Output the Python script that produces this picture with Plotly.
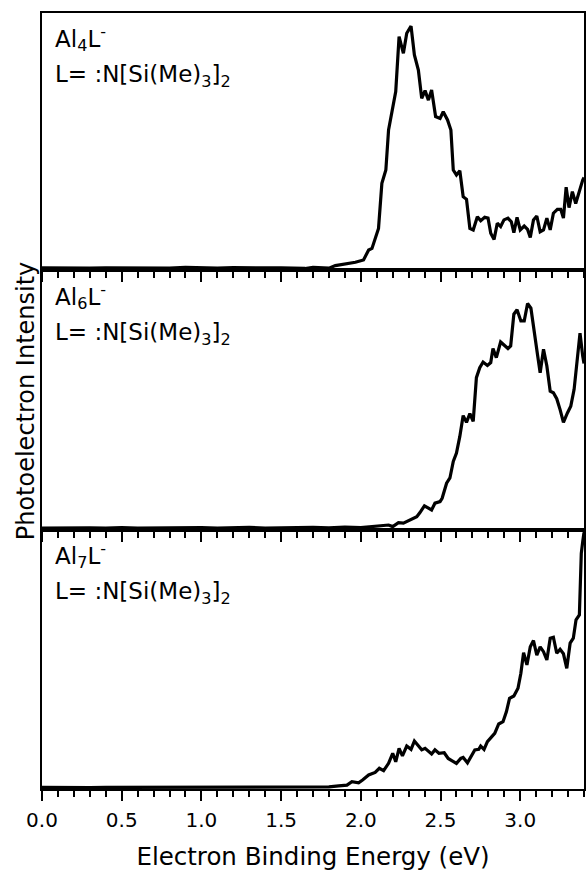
import plotly.graph_objects as go
from plotly.subplots import make_subplots

# ---------------- data ----------------
e_al4 = [0.0, 0.1, 0.2, 0.3, 0.4, 0.5, 0.6, 0.7, 0.8, 0.9, 1.0, 1.1, 1.2, 1.3, 1.4, 1.5,
         1.549, 1.60, 1.65, 1.70, 1.75, 1.80, 1.84, 1.893, 1.966, 2.017, 2.049, 2.07, 2.111,
         2.132, 2.157, 2.174, 2.194, 2.219, 2.24, 2.267, 2.288, 2.315, 2.336, 2.361, 2.382,
         2.403, 2.424, 2.444, 2.469, 2.497, 2.517, 2.544, 2.565, 2.58, 2.60, 2.621, 2.642,
         2.663, 2.684, 2.705, 2.731, 2.752, 2.777, 2.798, 2.815, 2.836, 2.856, 2.877, 2.898,
         2.923, 2.944, 2.96, 2.98, 3.0, 3.025, 3.046, 3.063, 3.083, 3.104, 3.125, 3.146,
         3.167, 3.188, 3.208, 3.233, 3.254, 3.271, 3.288, 3.306, 3.327, 3.348, 3.369, 3.392, 3.40]
i_al4 = [0.008, 0.007, 0.009, 0.007, 0.008, 0.007, 0.009, 0.008, 0.007, 0.010, 0.008, 0.007,
         0.009, 0.007, 0.008, 0.008,
         0.007, 0.009, 0.006, 0.010, 0.008, 0.007, 0.017, 0.023, 0.030, 0.039, 0.078, 0.084, 0.162,
         0.337, 0.389, 0.545, 0.610, 0.694, 0.908, 0.843, 0.921, 0.949, 0.837, 0.778, 0.668,
         0.698, 0.661, 0.700, 0.597, 0.590, 0.616, 0.584, 0.545, 0.389, 0.370, 0.386, 0.285,
         0.275, 0.162, 0.156, 0.207, 0.192, 0.205, 0.202, 0.143, 0.119, 0.182, 0.169, 0.195,
         0.202, 0.188, 0.145, 0.205, 0.156, 0.171, 0.158, 0.127, 0.195, 0.210, 0.149, 0.156,
         0.202, 0.156, 0.221, 0.236, 0.236, 0.202, 0.322, 0.243, 0.305, 0.259, 0.305, 0.350, 0.36]

e_al6 = [0.0, 0.1, 0.2, 0.3, 0.4, 0.5, 0.6, 0.7, 0.8, 0.9, 1.0, 1.1, 1.2, 1.3, 1.4, 1.5,
         1.60, 1.70, 1.80, 1.90, 2.00, 2.09, 2.174, 2.20, 2.236, 2.267, 2.299, 2.351, 2.371,
         2.399, 2.444, 2.465, 2.497, 2.51, 2.538, 2.559, 2.58, 2.60, 2.621, 2.642, 2.663,
         2.684, 2.705, 2.725, 2.746, 2.767, 2.794, 2.815, 2.829, 2.85, 2.877, 2.898, 2.923,
         2.94, 2.96, 2.98, 3.004, 3.025, 3.046, 3.067, 3.088, 3.108, 3.125, 3.146, 3.167,
         3.188, 3.208, 3.229, 3.25, 3.271, 3.296, 3.317, 3.338, 3.354, 3.375, 3.392, 3.40]
i_al6 = [0.007, 0.008, 0.006, 0.008, 0.007, 0.009, 0.007, 0.008, 0.006, 0.008, 0.009, 0.007,
         0.008, 0.010, 0.007, 0.009,
         0.008, 0.010, 0.008, 0.011, 0.009, 0.013, 0.019, 0.013, 0.028, 0.026, 0.036, 0.051, 0.067,
         0.093, 0.077, 0.103, 0.109, 0.122, 0.180, 0.200, 0.264, 0.296, 0.360, 0.440, 0.414,
         0.448, 0.418, 0.586, 0.624, 0.646, 0.633, 0.644, 0.698, 0.663, 0.723, 0.712, 0.698,
         0.708, 0.830, 0.847, 0.804, 0.804, 0.871, 0.853, 0.772, 0.676, 0.605, 0.695, 0.631,
         0.534, 0.528, 0.505, 0.463, 0.414, 0.450, 0.476, 0.541, 0.631, 0.757, 0.669, 0.64]

e_al7 = [0.0, 0.1, 0.2, 0.3, 0.4, 0.5, 0.6, 0.7, 0.8, 0.9, 1.0, 1.1, 1.2, 1.3, 1.4, 1.5,
         1.60, 1.70, 1.757, 1.80, 1.861, 1.913, 1.944, 1.986, 2.011, 2.049, 2.09, 2.116,
         2.143, 2.174, 2.20, 2.219, 2.24, 2.261, 2.288, 2.315, 2.336, 2.361, 2.382, 2.403,
         2.424, 2.444, 2.465, 2.49, 2.523, 2.548, 2.573, 2.60, 2.627, 2.642, 2.669, 2.694,
         2.715, 2.74, 2.752, 2.773, 2.794, 2.819, 2.84, 2.865, 2.892, 2.913, 2.933, 2.96,
         2.986, 3.004, 3.021, 3.042, 3.063, 3.083, 3.104, 3.125, 3.146, 3.167, 3.188, 3.208,
         3.229, 3.25, 3.271, 3.292, 3.313, 3.333, 3.35, 3.371, 3.383, 3.392, 3.40]
i_al7 = [0.006, 0.005, 0.007, 0.005, 0.006, 0.006, 0.005, 0.007, 0.006, 0.005, 0.006, 0.007,
         0.005, 0.006, 0.005, 0.006,
         0.005, 0.006, 0.005, 0.008, 0.012, 0.015, 0.028, 0.024, 0.035, 0.054, 0.064, 0.080,
         0.071, 0.099, 0.138, 0.105, 0.157, 0.128, 0.166, 0.153, 0.185, 0.166, 0.151, 0.157,
         0.144, 0.135, 0.151, 0.138, 0.140, 0.118, 0.109, 0.099, 0.118, 0.122, 0.101, 0.131,
         0.151, 0.153, 0.166, 0.153, 0.183, 0.200, 0.215, 0.251, 0.260, 0.298, 0.350, 0.359,
         0.389, 0.447, 0.526, 0.479, 0.549, 0.573, 0.517, 0.549, 0.530, 0.498, 0.582, 0.586,
         0.524, 0.539, 0.522, 0.466, 0.563, 0.582, 0.653, 0.672, 0.910, 0.955, 0.99]

labels = ["Al<sub>4</sub>L<sup>-</sup>", "Al<sub>6</sub>L<sup>-</sup>", "Al<sub>7</sub>L<sup>-</sup>"]
ligand = "L= :N[Si(Me)<sub>3</sub>]<sub>2</sub>"
x_tick_vals = [0.0, 0.5, 1.0, 1.5, 2.0, 2.5, 3.0]
x_title = "Electron Binding Energy (eV)"
y_title = "Photoelectron Intensity"

# ---------------- figure ----------------
FONT = "DejaVu Sans"
fig = make_subplots(rows=3, cols=1, shared_xaxes=True, vertical_spacing=0)

series = [(e_al4, i_al4), (e_al6, i_al6), (e_al7, i_al7)]
for r, (ex, iy) in enumerate(series, start=1):
    fig.add_trace(go.Scatter(x=ex, y=iy, mode="lines",
                             line=dict(color="black", width=3.2),
                             showlegend=False, hoverinfo="skip"), row=r, col=1)

domains = [[0.6688, 1.0], [0.3338, 0.6688], [0.0, 0.3338]]
for r in range(1, 4):
    fig.update_xaxes(row=r, col=1, range=[0, 3.4], showline=True, linecolor="black",
                     linewidth=2, mirror=True, showgrid=False, zeroline=False,
                     ticks="outside", ticklen=10, tickwidth=2, tickcolor="black",
                     tickvals=x_tick_vals, tickformat=".1f",
                     showticklabels=(r == 3), ticklabelstandoff=2,
                     tickfont=dict(family=FONT, size=20, color="black"),
                     minor=dict(dtick=0.1, tick0=0, ticks="outside", ticklen=6,
                                tickwidth=2, tickcolor="black", showgrid=False))
    fig.update_yaxes(row=r, col=1, range=[0, 1], domain=domains[r - 1], showline=True,
                     linecolor="black", linewidth=2, mirror=True, showgrid=False,
                     zeroline=False, ticks="", showticklabels=False)

fig.update_xaxes(row=3, col=1, title=dict(text=x_title, standoff=17,
                 font=dict(family=FONT, size=24.5, color="black")))

annotations = []
yrefs = ["y domain", "y2 domain", "y3 domain"]
for k in range(3):
    xr = "x domain" if k == 0 else f"x{k+1} domain"
    annotations.append(dict(text=labels[k], xref=xr, yref=yrefs[k], x=0.021, y=0.90,
                            xanchor="left", yanchor="middle", showarrow=False,
                            font=dict(family=FONT, size=23, color="black")))
    annotations.append(dict(text=ligand, xref=xr, yref=yrefs[k], x=0.021, y=0.755,
                            xanchor="left", yanchor="middle", showarrow=False,
                            font=dict(family=FONT, size=23, color="black")))
annotations.append(dict(text=y_title, textangle=-90, xref="paper", yref="paper",
                        x=-0.029, y=0.5, xanchor="center", yanchor="middle",
                        showarrow=False, font=dict(family=FONT, size=24, color="black")))

fig.update_layout(width=587, height=872, margin=dict(l=42, r=1, t=13, b=83),
                  plot_bgcolor="white", paper_bgcolor="white",
                  annotations=annotations, font=dict(family=FONT, color="black"))

# remove the default 8 px body margin so the figure fills the window exactly
fig.write_html("out.html", config={"displayModeBar": False},
               post_script="document.body.style.margin='0';")
